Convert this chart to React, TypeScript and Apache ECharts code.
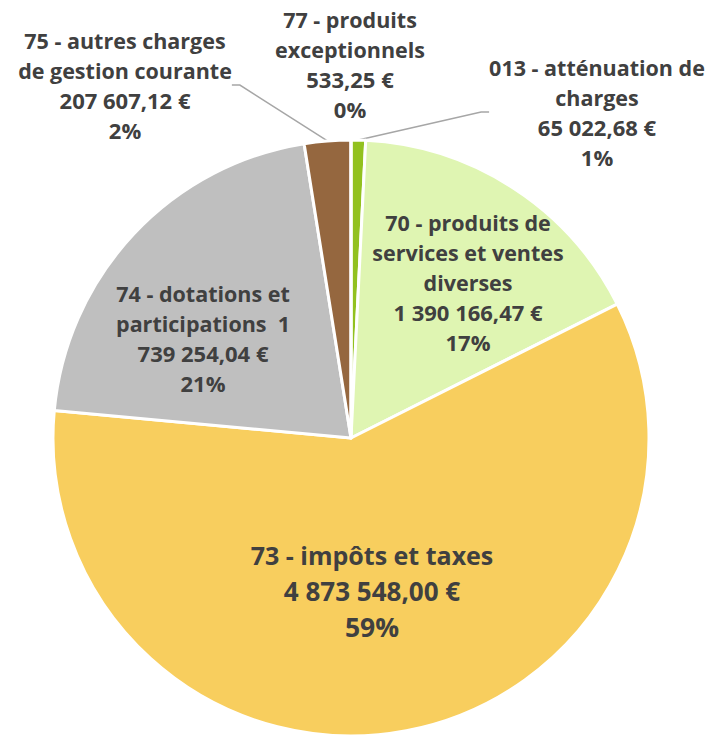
import React, { useEffect, useRef } from "react";
import * as echarts from "echarts";

// Data
const categories = [
  "013 - atténuation de\ncharges",
  "70 - produits de\nservices et ventes\ndiverses",
  "73 - impôts et taxes",
  "74 - dotations et\nparticipations",
  "75 - autres charges\nde gestion courante",
  "77 - produits\nexceptionnels",
];
const amounts = [65022.68, 1390166.47, 4873548.0, 1739254.04, 207607.12, 533.25];
const percentLabels = ["1%", "17%", "59%", "21%", "2%", "0%"];
const sliceColors = ["#92C11F", "#DFF5B2", "#F8CE5E", "#BFBFBF", "#95673F", "#8AB833"];
const outsideLabel = [true, false, false, false, true, true];
const showLeader = [true, false, false, false, true, false];
const wrapValue = [false, false, false, true, false, false];
const bigLabel = [false, false, true, false, false, false];

// label block centres (layout, not data)
const labelCenters: number[][] = [
  [597, 112],
  [468, 282],
  [372, 591],
  [203, 338],
  [125, 85],
  [350, 64],
];

function formatEuro(v: number): string {
  const fixed = v.toFixed(2);
  const [intPart, dec] = fixed.split(".");
  const grouped = intPart.replace(/\B(?=(\d{3})+(?!\d))/g, " ");
  return `${grouped},${dec} €`;
}

function richFor(big: boolean) {
  const base = { color: "#404040", fontWeight: "bold", fontFamily: "Open Sans" };
  return big
    ? {
        n: { ...base, fontSize: 25, lineHeight: 36 },
        v: { ...base, fontSize: 26, lineHeight: 36 },
        p: { ...base, fontSize: 26.5, lineHeight: 37 },
      }
    : {
        n: { ...base, fontSize: 21.5, lineHeight: 30 },
        v: { ...base, fontSize: 22, lineHeight: 30 },
        p: { ...base, fontSize: 22, lineHeight: 30 },
      };
}

export default function App() {
  const ref = useRef<HTMLDivElement>(null);
  useEffect(() => {
    document.body.style.margin = "0";
    const chart = echarts.init(ref.current!, null, { renderer: "svg" });
    const data = categories.map((name, i) => ({
      name,
      value: amounts[i],
      itemStyle: { color: sliceColors[i] },
      label: {
        position: outsideLabel[i] ? "outside" : "inside",
        rich: richFor(bigLabel[i]),
      },
      labelLine: { show: showLeader[i] },
    }));
    chart.setOption({
      animation: false,
      backgroundColor: "#ffffff",
      series: [
        {
          type: "pie",
          center: [351, 438],
          radius: 298,
          startAngle: 90,
          clockwise: true,
          avoidLabelOverlap: false,
          itemStyle: { borderColor: "#ffffff", borderWidth: 3 },
          label: {
            show: true,
            color: "#404040",
            fontWeight: "bold",
            fontFamily: "Open Sans",
            align: "center",
            formatter: (p: any) => {
              const i = p.dataIndex;
              const v = formatEuro(amounts[i]);
              const nameLines = categories[i].split("\n");
              const lines: string[] = [];
              if (wrapValue[i]) {
                const sp = v.indexOf(" ");
                const head = v.slice(0, sp);
                const tail = v.slice(sp + 1);
                nameLines.forEach((l, k) => {
                  if (k === nameLines.length - 1) lines.push(`{n|${l}  ${head}}`);
                  else lines.push(`{n|${l}}`);
                });
                lines.push(`{v|${tail}}`);
              } else {
                nameLines.forEach((l) => lines.push(`{n|${l}}`));
                lines.push(`{v|${v}}`);
              }
              lines.push(`{p|${percentLabels[i]}}`);
              return lines.join("\n");
            },
          },
          labelLine: {
            show: true,
            length: 20,
            length2: 8,
            lineStyle: { color: "#A6A6A6", width: 1.5 },
          },
          labelLayout: (p: any) => ({
            x: labelCenters[p.dataIndex][0],
            y: labelCenters[p.dataIndex][1],
            align: "center",
            verticalAlign: "middle",
          }),
          data,
        },
      ],
    });
    return () => chart.dispose();
  }, []);
  return <div ref={ref} style={{ width: 714, height: 735 }} />;
}
